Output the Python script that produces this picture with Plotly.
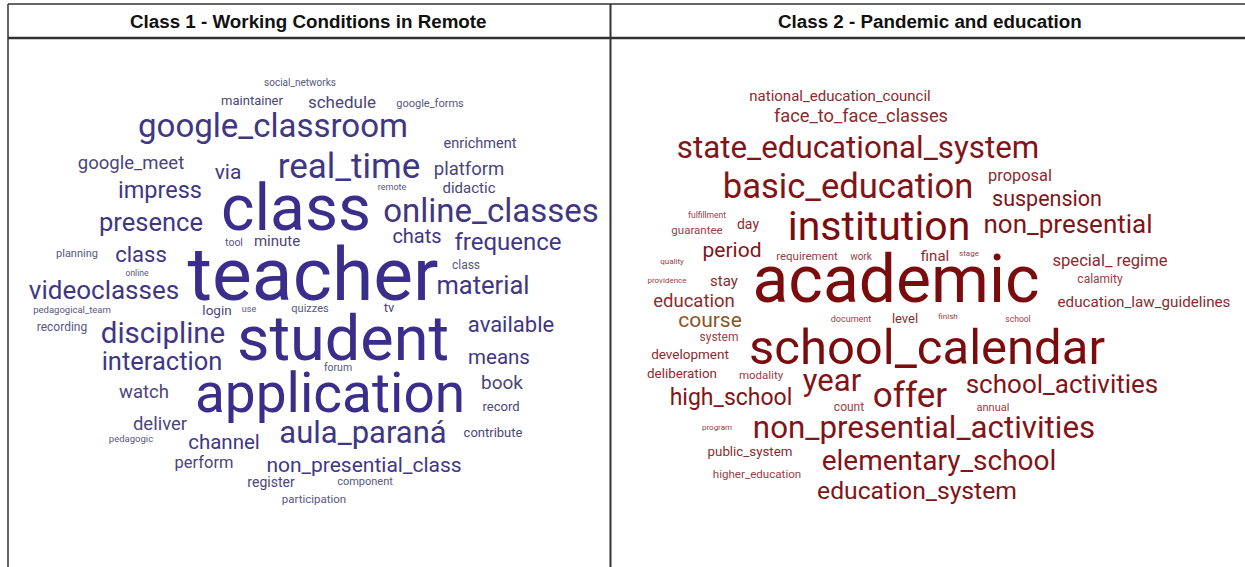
import plotly.graph_objects as go

# ---------------- data ----------------
panel_titles = ["Class 1 - Working Conditions in Remote", "Class 2 - Pandemic and education"]

# Class 1 word cloud: words, relative weights (frequency -> font size), layout position
c1_words = ["social_networks", "maintainer", "schedule", "google_forms", "google_classroom",
            "enrichment", "google_meet", "real_time", "platform", "via", "remote", "didactic",
            "class", "impress", "online_classes", "presence", "chats", "frequence", "tool",
            "minute", "planning", "class", "teacher", "online", "videoclasses", "material",
            "class", "pedagogical_team", "login", "use", "quizzes", "tv", "recording",
            "discipline", "student", "available", "interaction", "means", "forum",
            "application", "watch", "book", "record", "deliver", "contribute", "pedagogic",
            "channel", "aula_paraná", "perform", "non_presential_class", "register",
            "component", "participation"]
c1_weights = [10, 13, 17, 11, 33,
              14.5, 18.5, 35, 18.5, 21, 9, 15,
              64, 23.5, 33, 25.5, 20, 24, 10.5,
              15, 11, 22, 75, 8.5, 26, 25.5,
              12, 9.5, 13.5, 9, 11, 13, 12,
              29.5, 63, 22, 25.5, 20.5, 10.5,
              55, 18.5, 19, 13, 18.5, 13, 9.5,
              20.5, 31, 16.5, 21, 14,
              11, 11.5]
c1_x = [300, 252, 342, 430, 273,
        480, 131, 349, 469, 228, 392, 469,
        296, 160, 491, 151, 417, 508, 234,
        277, 77, 141, 313, 137, 104, 483,
        466, 72, 217, 249, 310, 389, 62,
        163, 343, 511, 162, 499, 338,
        330, 144, 502, 501, 160, 493, 131,
        224, 363, 204, 364, 271,
        365, 314]
c1_y = [83, 102, 104, 104, 129,
        144, 164, 169, 170, 174, 188, 189,
        214, 192, 214, 225, 238, 244, 243,
        242, 254, 256, 281, 274, 292, 288,
        266, 311, 312, 310, 309, 309, 328,
        336, 344, 326, 364, 359, 368,
        398, 393, 384, 408, 425, 434, 440,
        444, 435, 464, 467, 483,
        482, 500]

# Class 2 word cloud
c2_words = ["national_education_council", "face_to_face_classes", "state_educational_system",
            "basic_education", "proposal", "suspension", "institution", "non_presential",
            "fulfillment", "day", "guarantee", "period", "requirement", "work", "final",
            "stage", "quality", "special_ regime", "academic", "providence", "stay",
            "calamity", "education", "education_law_guidelines", "course", "document",
            "level", "finish", "school", "system", "school_calendar", "development",
            "deliberation", "modality", "year", "offer", "high_school", "count",
            "school_activities", "annual", "program", "non_presential_activities",
            "public_system", "elementary_school", "higher_education", "education_system"]
c2_weights = [15, 18.3, 31.3,
              34.6, 16.4, 21.5, 41, 26,
              8.5, 14, 11.5, 21, 11.5, 10, 15,
              8, 8, 16.6, 66, 8, 15,
              12, 18.5, 15.2, 21, 9,
              13, 8, 8.5, 12, 49, 13.5,
              13.4, 11.5, 31, 35, 23, 12,
              26, 11, 8, 31.3,
              13.3, 28, 11.6, 24.7]
c2_x = [840, 861, 858,
        848, 1020, 1047, 879, 1068,
        707, 748, 697, 732, 807, 861, 935,
        969, 672, 1110, 896, 667, 724,
        1100, 694, 1144, 710, 851,
        905, 948, 1018, 719, 927, 690,
        682, 761, 832, 910, 731, 849,
        1062, 993, 717, 924,
        750, 939, 757, 917]
c2_y = [97, 117, 150,
        189, 177, 201, 230, 226,
        216, 225, 231, 252, 257, 257, 257,
        254, 262, 262, 285, 281, 282,
        280, 302, 303, 322, 320,
        320, 317, 320, 338, 352, 356,
        375, 376, 383, 398, 399, 408,
        386, 408, 428, 430,
        453, 463, 475, 493]


def blue_shade(w):
    if w >= 40:
        return "#3a2d8c"
    if w >= 20:
        return "#3f3784"
    if w >= 13:
        return "#4a4679"
    return "#58577e"


def red_shade(word, w):
    if word == "course":
        return "#8a5526"
    if w >= 40:
        return "#7a0c0e"
    if w >= 20:
        return "#821418"
    if w >= 13:
        return "#8c2a2e"
    return "#9a4046"


fig = go.Figure()

fig.add_trace(go.Scatter(
    x=c1_x, y=c1_y, text=c1_words, mode="text", textposition="middle center",
    textfont=dict(family="Roboto", size=c1_weights, color=[blue_shade(w) for w in c1_weights]),
    hoverinfo="text", cliponaxis=False, showlegend=False))

fig.add_trace(go.Scatter(
    x=c2_x, y=c2_y, text=c2_words, mode="text", textposition="middle center",
    textfont=dict(family="Roboto", size=c2_weights,
                  color=[red_shade(wd, w) for wd, w in zip(c2_words, c2_weights)]),
    hoverinfo="text", cliponaxis=False, showlegend=False))

# table frame
line_col = "#333333"
shapes = [
    dict(type="line", x0=8, x1=1245, y0=4, y1=4, line=dict(color=line_col, width=1.5)),
    dict(type="line", x0=8, x1=1245, y0=38, y1=38, line=dict(color=line_col, width=2.5)),
    dict(type="line", x0=8, x1=8, y0=4, y1=567, line=dict(color=line_col, width=1.5)),
    dict(type="line", x0=610.5, x1=610.5, y0=4, y1=567, line=dict(color=line_col, width=2)),
]
for s in shapes:
    s.update(xref="x", yref="y", layer="above")

title_x = [308, 930]
annotations = [dict(x=tx, y=21, xref="x", yref="y", text="<b>%s</b>" % t, showarrow=False,
                    font=dict(family="Liberation Sans, Arial, sans-serif", size=18.8, color="#111111"),
                    xanchor="center", yanchor="middle")
               for tx, t in zip(title_x, panel_titles)]

fig.update_layout(
    width=1245, height=567, margin=dict(l=0, r=0, t=0, b=0),
    paper_bgcolor="white", plot_bgcolor="white",
    shapes=shapes, annotations=annotations,
    xaxis=dict(range=[0, 1245], visible=False, fixedrange=True),
    yaxis=dict(range=[567, 0], visible=False, fixedrange=True),
)

fig.write_html("out.html", config={"displayModeBar": False},
               post_script="document.body.style.margin='0';document.body.style.overflow='hidden';")
